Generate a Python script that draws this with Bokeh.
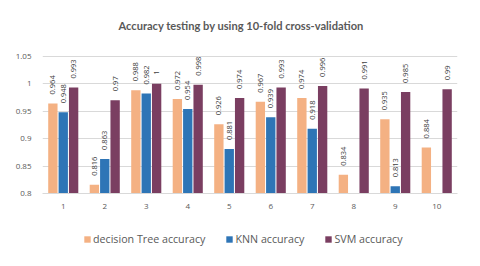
from bokeh.plotting import figure
from bokeh.models import ColumnDataSource, FactorRange, FixedTicker, Legend, LegendItem
from bokeh.layouts import column
from bokeh.transform import dodge
from bokeh.core.properties import value
from bokeh.embed import file_html
from bokeh.resources import INLINE
import math

title_text = "Accuracy testing by using 10-fold cross-validation"
folds = ["1", "2", "3", "4", "5", "6", "7", "8", "9", "10"]
series_names = ["decision Tree accuracy", "KNN accuracy", "SVM accuracy"]
tree_acc = [0.964, 0.816, 0.988, 0.972, 0.926, 0.967, 0.974, 0.834, 0.935, 0.884]
knn_acc = [0.948, 0.863, 0.982, 0.954, 0.881, 0.939, 0.918, None, 0.813, None]
svm_acc = [0.993, 0.97, 1.0, 0.998, 0.974, 0.993, 0.996, 0.991, 0.985, 0.99]
y_ticks = [0.8, 0.85, 0.9, 0.95, 1.0, 1.05]
y_tick_labels = ["0.8", "0.85", "0.9", "0.95", "1", "1.05"]
colors = ["#F4B183", "#2E75B6", "#7A3E61"]

FONT = "Open Sans"

p = figure(width=464, height=214, x_range=FactorRange(*folds, range_padding=0),
           y_range=(0.8, 1.075), output_backend="svg", toolbar_location=None,
           min_border_left=42, min_border_right=7, min_border_top=42, min_border_bottom=21)
p.title.text = title_text
p.title.align = "left"
p.title.offset = 76
p.title.text_font = "Lato"
p.title.text_font_size = "11.1px"
p.title.text_font_style = "bold"
p.title.text_color = "#595959"
p.title.standoff = 21

p.outline_line_color = None
p.background_fill_color = "white"
p.border_fill_color = "white"
p.xgrid.grid_line_color = None
p.ygrid.grid_line_color = "#D9D9D9"
p.ygrid.ticker = FixedTicker(ticks=y_ticks)

p.yaxis.ticker = FixedTicker(ticks=y_ticks)
p.yaxis.major_label_overrides = {t: l for t, l in zip(y_ticks, y_tick_labels)}
p.yaxis.axis_line_color = None
p.yaxis.major_tick_line_color = None
p.yaxis.minor_tick_line_color = None
p.yaxis.major_tick_out = 0
p.yaxis.major_label_standoff = 11
p.yaxis.major_label_text_font = FONT
p.yaxis.major_label_text_font_size = "8px"
p.yaxis.major_label_text_color = "#595959"

p.xaxis.axis_line_color = "#D9D9D9"
p.xaxis.major_tick_line_color = None
p.xaxis.minor_tick_line_color = None
p.xaxis.major_tick_out = 0
p.xaxis.major_label_standoff = 10
p.xaxis.major_label_text_font = FONT
p.xaxis.major_label_text_font_size = "8px"
p.xaxis.major_label_text_color = "#595959"

# legend lives in a thin companion figure below the chart (its bars fall outside its view)
pl = figure(width=464, height=36, x_range=FactorRange(*folds, range_padding=0), y_range=(2, 3),
            output_backend="svg", toolbar_location=None, x_axis_type=None, y_axis_type=None,
            min_border=0, min_border_left=0, min_border_right=0, min_border_top=0, min_border_bottom=0)
pl.outline_line_color = None
pl.xgrid.grid_line_color = None
pl.ygrid.grid_line_color = None
pl.border_fill_color = "white"

offsets = [-0.25, 0.0, 0.25]
items = []
for vals, name, col, off in zip([tree_acc, knn_acc, svm_acc], series_names, colors, offsets):
    xs = [f for f, v in zip(folds, vals) if v is not None]
    ys = [v for v in vals if v is not None]
    src = ColumnDataSource(dict(x=xs, top=ys, label=[f"{v:g}" for v in ys]))
    p.vbar(x=dodge("x", off, range=p.x_range), top="top", bottom=0.8, width=0.225,
           source=src, fill_color=col, line_color=None)
    p.text(x=dodge("x", off, range=p.x_range), y="top", text="label", source=src,
           angle=math.pi / 2, text_align="left", text_baseline="middle",
           y_offset=-9, text_font=value(FONT), text_font_size="7.5px", text_color="#404040")
    rl = pl.vbar(x=dodge("x", off, range=pl.x_range), top="top", bottom=0.8, width=0.225,
                 source=src, fill_color=col, line_color=None)
    items.append(LegendItem(label=name, renderers=[rl]))

legend = Legend(items=items, orientation="horizontal", location=(41, 4),
                glyph_width=8, glyph_height=8, label_standoff=2, spacing=20,
                padding=0, margin=0, border_line_color=None, background_fill_alpha=0,
                label_text_font=FONT, label_text_font_size="10.7px", label_text_color="#595959",
                label_height=12)
pl.add_layout(legend, "center")

layout = column(p, pl, spacing=0)
open("out.html", "w").write(file_html(layout, INLINE))
